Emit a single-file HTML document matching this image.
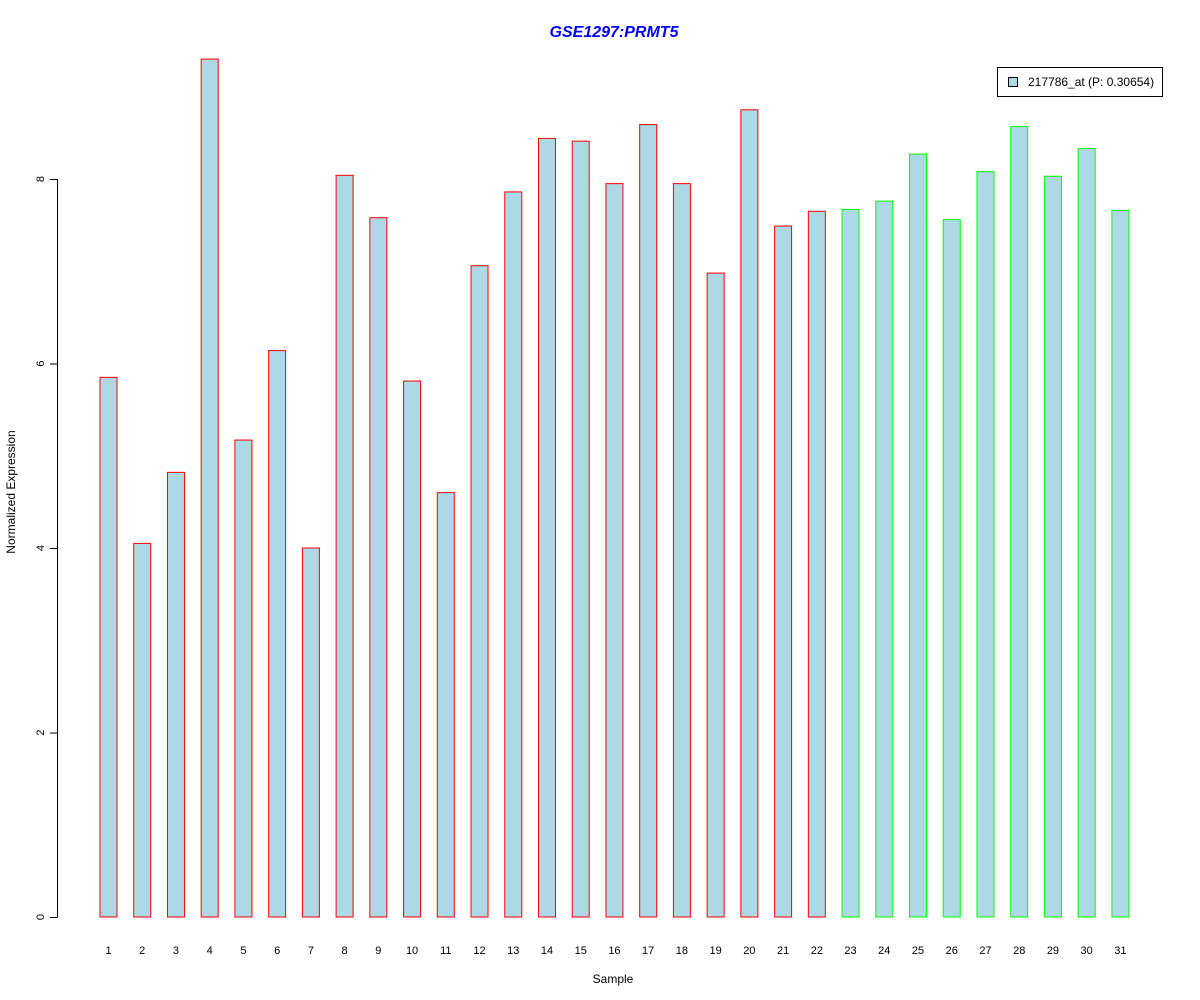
<!DOCTYPE html>
<html><head><meta charset="utf-8"><style>
body{margin:0;background:#fff}
svg{display:block;font-family:"Liberation Sans",Arial,sans-serif}
</style></head><body>
<svg id="chart" width="1200" height="1000">
<text x="614" y="37" text-anchor="middle" font-size="16" font-weight="bold" font-style="italic" fill="#0000ff">GSE1297:PRMT5</text>
<text transform="translate(15,492) rotate(-90)" text-anchor="middle" font-size="12">Normalized Expression</text>
<text x="613" y="983" text-anchor="middle" font-size="12">Sample</text>
<g>
<rect x="997.5" y="67.5" width="165" height="29" fill="#fff" stroke="#000"/>
<rect x="1008.5" y="77.5" width="9" height="9" fill="#add8e6" stroke="#000"/>
<text x="1028" y="86" font-size="12">217786_at (P: 0.30654)</text>
</g>
<g id="yaxis"></g>
<g id="bars"></g>
<g id="xlabels"></g>
</svg>
<script>
const categories=["1","2","3","4","5","6","7","8","9","10","11","12","13","14","15","16","17","18","19","20","21","22","23","24","25","26","27","28","29","30","31"];
const values=[5.85,4.05,4.82,9.30,5.17,6.14,4.0,8.04,7.58,5.81,4.60,7.06,7.86,8.44,8.41,7.95,8.59,7.95,6.98,8.75,7.49,7.65,7.67,7.76,8.27,7.56,8.08,8.57,8.03,8.33,7.66];
const groups=[0,0,0,0,0,0,0,0,0,0,0,0,0,0,0,0,0,0,0,0,0,0,1,1,1,1,1,1,1,1,1];
const yTicks=[0,2,4,6,8];
const NS="http://www.w3.org/2000/svg";
function y(v){return 917-v*92.25;}
function xc(i){return 108.5+i*33.73;}
const ya=document.getElementById('yaxis');
let l=document.createElementNS(NS,'line');
l.setAttribute('x1',57.5);l.setAttribute('x2',57.5);l.setAttribute('y1',y(0));l.setAttribute('y2',y(8));l.setAttribute('stroke','#000');


ya.appendChild(l);
yTicks.forEach(t=>{
 const tk=document.createElementNS(NS,'line');
 tk.setAttribute('x1',50);tk.setAttribute('x2',57.5);tk.setAttribute('y1',y(t)+0.5);tk.setAttribute('y2',y(t)+0.5);tk.setAttribute('stroke','#000');
 
 
 ya.appendChild(tk);
 const tx=document.createElementNS(NS,'text');
 tx.setAttribute('transform','translate(44,'+y(t)+') rotate(-90)');tx.setAttribute('text-anchor','middle');tx.setAttribute('font-size','11');
 tx.textContent=t;
 
 
 ya.appendChild(tx);
});
const bg=document.getElementById('bars'),xl=document.getElementById('xlabels');
values.forEach((v,i)=>{
 const r=document.createElementNS(NS,'rect');
 r.setAttribute('x',xc(i)-8.5);r.setAttribute('width',17);r.setAttribute('y',y(v));r.setAttribute('height',y(0)-y(v));
 r.setAttribute('fill','#add8e6');r.setAttribute('stroke',groups[i]?'#00ff00':'#ff0000');
 
 
 bg.appendChild(r);
 const t=document.createElementNS(NS,'text');
 t.setAttribute('x',xc(i));t.setAttribute('y',954);t.setAttribute('text-anchor','middle');t.setAttribute('font-size','11');
 t.textContent=categories[i];
 
 
 xl.appendChild(t);
});
</script>
</body></html>
